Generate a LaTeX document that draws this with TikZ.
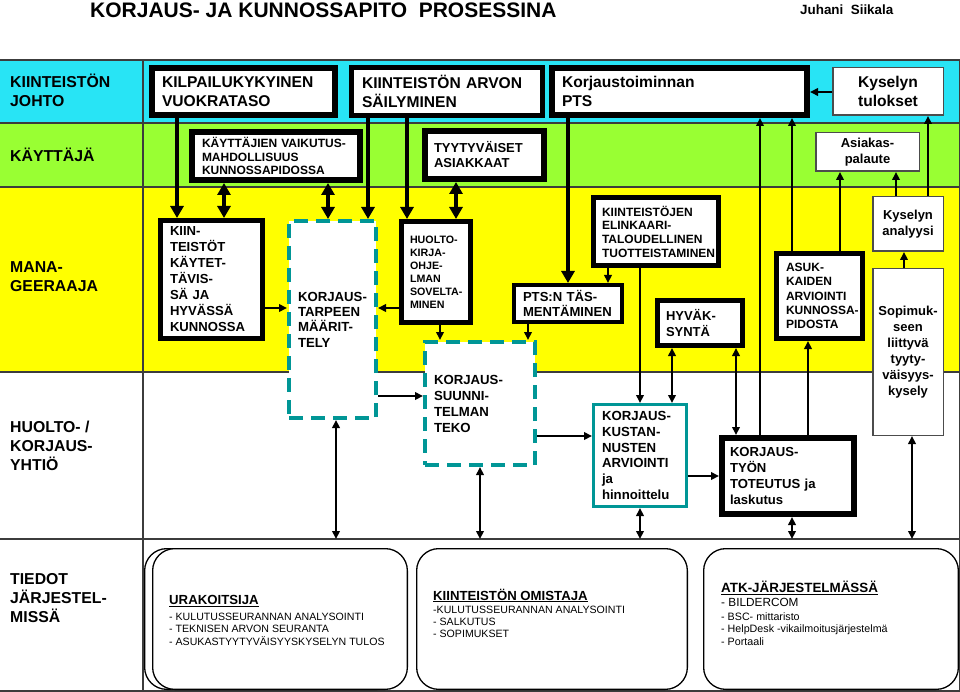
\documentclass[tikz,border=0pt]{standalone}
\usepackage{fontspec}
\setmainfont{Liberation Sans}
\usetikzlibrary{arrows.meta}
\definecolor{cyanband}{RGB}{40,228,245}
\definecolor{greenband}{RGB}{153,255,51}
\definecolor{yellowband}{RGB}{255,255,0}
\definecolor{tealc}{RGB}{0,150,150}
\definecolor{framec}{RGB}{60,60,60}
\newcommand\fs[2]{\fontsize{#1}{#2}\selectfont}
\newcommand\ml[1]{\begin{tabular}[t]{@{}l@{}}#1\end{tabular}}
\newcommand\ulx[1]{\setbox0\hbox{#1}\rlap{\rule[-2.2pt]{\wd0}{1.2pt}}\box0}
\hyphenpenalty=10000
\exhyphenpenalty=10000
% box: name, x1,y1,x2,y2 (outer), line width, text offset from outer left, style, text
\newcommand\bx[9]{%
 \pgfmathsetmacro\bxw{#4-#2-#6}%
 \pgfmathsetmacro\bxh{#5-#3-#6}%
 \pgfmathsetmacro\bxtw{#4-#2-2*#7}%
 \pgfmathsetmacro\bxis{#7-#6/2}%
 \pgfmathsetmacro\bxcx{(#2+#4)/2}%
 \pgfmathsetmacro\bxcy{(#3+#5)/2}%
 \node[#8, line width=#6pt, minimum width=\bxw pt, minimum height=\bxh pt,
   inner xsep=\bxis pt, inner ysep=0pt, text width=\bxtw pt] (#1) at (\bxcx,\bxcy) {#9};}
\newcommand\vc[4]{\path (#4,0) coordinate (vx); \draw[#1] (#2 -| vx) -- (#3 -| vx);}
\newcommand\hc[4]{\path (0,#4) coordinate (hy); \draw[#1] (#2 |- hy) -- (#3 |- hy);}
\tikzset{
 blk/.style={draw=black, fill=white, align=left},
 thinbox/.style={draw=black!70, fill=white, align=center},
 tealdash/.style={draw=tealc, fill=white, dash pattern=on 14pt off 8pt, align=left},
 tealsolid/.style={draw=tealc, fill=white, align=left},
 thk/.style={line width=4.5pt, -{Triangle[length=12pt,width=13pt]}},
 thkboth/.style={line width=4.5pt, {Triangle[length=12pt,width=13pt]}-{Triangle[length=12pt,width=13pt]}},
 thn/.style={line width=2pt, -{Triangle[length=8pt,width=7.5pt]}},
 thnboth/.style={line width=2pt, {Triangle[length=8pt,width=7.5pt]}-{Triangle[length=8pt,width=7.5pt]}},
 rbox/.style={draw=black, rounded corners=22pt, fill=white},
 lbl/.style={font=\fs{15.8}{19}\bfseries, anchor=base west, inner sep=0pt},
 ln/.style={anchor=base west, inner sep=0pt},
 frame/.style={draw=framec, line width=1.3pt},
}
\begin{document}
\begin{tikzpicture}[x=1pt,y=-1pt]
\useasboundingbox (0,0) rectangle (960,692);
% bands
\fill[white] (0,0) rectangle (960,692);
\fill[cyanband] (0,60) rectangle (960,123);
\fill[greenband] (0,123) rectangle (960,187);
\fill[yellowband] (0,187) rectangle (960,372);
\foreach \yy in {60,123,187,372,539,691} \draw[frame] (0,\yy) -- (960,\yy);
\draw[frame] (143,60) -- (143,691);
\draw[frame] (959.3,60) -- (959.3,691);
\coordinate (tied) at (0,539);
% title
\node[ln, font=\fs{21}{25}\bfseries] (title) at (90,18) {KORJAUS- JA KUNNOSSAPITO\ \ PROSESSINA};
\node[ln, font=\fs{13.4}{16}\bfseries] (author) at (800,15) {Juhani\ \ Siikala};
% row labels
\node[lbl] (lab1) at (10,88) {\ml{KIINTEISTÖN\\JOHTO}};
\node[lbl] (lab2) at (10,162) {\ml{KÄYTTÄJÄ}};
\node[lbl] (lab3) at (10,273) {\ml{MANA-\\GEERAAJA}};
\node[lbl] (lab4) at (10,432) {\ml{HUOLTO- /\\KORJAUS-\\YHTIÖ}};
\node[lbl] (lab5) at (10,584) {\ml{TIEDOT\\JÄRJESTEL-\\MISSÄ}};
% top row
\bx{kilp}{149}{65}{338}{118}{6}{13}{blk, font=\fs{15.6}{19}\bfseries}{KILPAILUKYKYINEN\\VUOKRATASO}
\bx{arvo}{349}{65}{545}{118}{5}{13}{blk, font=\fs{15.6}{19}\bfseries}{KIINTEISTÖN~ARVON\\SÄILYMINEN}
\bx{pts}{549}{65}{810}{118}{6}{13}{blk, font=\fs{15.6}{19}\bfseries}{Korjaustoiminnan\\PTS}
\bx{kyst}{832}{67}{944}{116}{1.5}{3}{thinbox, font=\fs{15.6}{19}\bfseries}{Kyselyn\\tulokset}
% green row
\bx{kvm}{189}{129}{363}{183}{6}{13}{blk, font=\fs{12}{13.5}\bfseries}{KÄYTTÄJIEN~VAIKUTUS-\\MAHDOLLISUUS\\KUNNOSSAPIDOSSA}
\bx{tyyt}{422}{128}{547}{182}{6}{12}{blk, font=\fs{13}{15}\bfseries}{TYYTYVÄISET\\ASIAKKAAT}
\bx{asp}{815}{132}{920}{172}{1.5}{3}{thinbox, font=\fs{13}{15.5}\bfseries}{Asiakas-\\palaute}
% yellow row
\bx{kiin}{158}{218}{265}{341}{5}{12}{blk, font=\fs{13.1}{16}\bfseries}{KIIN-\\TEISTÖT\\KÄYTET-\\TÄVIS-\\SÄ~JA\\HYVÄSSÄ\\KUNNOSSA}
\bx{ktar}{287}{219}{378}{420}{4}{11}{tealdash, font=\fs{13.2}{15.4}\bfseries}{KORJAUS-\\TARPEEN\\MÄÄRIT-\\TELY}
\bx{huol}{399}{219}{473}{325}{5}{11}{blk, font=\fs{10.7}{13}\bfseries}{HUOLTO-\\KIRJA-\\OHJE-\\LMAN\\SOVELTA-\\MINEN}
\bx{ksuu}{423}{340}{537}{467}{4}{11}{tealdash, font=\fs{13.2}{16}\bfseries}{KORJAUS-\\SUUNNI-\\TELMAN\\TEKO}
\bx{ptst}{512}{283}{624}{324}{4}{11}{blk, font=\fs{13.1}{15.5}\bfseries}{PTS:N~TÄS-\\MENTÄMINEN}
\bx{elin}{591}{195}{721}{268}{5}{11}{blk, font=\fs{12}{13.7}\bfseries}{KIINTEISTÖJEN\\ELINKAARI-\\TALOUDELLINEN\\TUOTTEISTAMINEN}
\bx{hyv}{655}{298}{745}{348}{5}{11}{blk, font=\fs{13}{15.5}\bfseries}{HYVÄK-\\SYNTÄ}
\bx{asuk}{774}{251}{865}{341}{5}{12}{blk, font=\fs{12}{14.3}\bfseries}{ASUK-\\KAIDEN\\ARVIOINTI\\KUNNOSSA-\\PIDOSTA}
\bx{kana}{872}{196}{944}{252}{1.5}{2}{thinbox, font=\fs{13}{16}\bfseries}{Kyselyn\\analyysi}
\bx{sopi}{872}{268}{944}{436}{1.5}{2}{thinbox, font=\fs{13}{16}\bfseries}{Sopimuk-\\seen\\liittyvä\\tyyty-\\väisyys-\\kysely}
% huolto row
\bx{kkus}{592}{403}{688}{508}{3}{10}{tealsolid, font=\fs{13.2}{15.8}\bfseries}{KORJAUS-\\KUSTAN-\\NUSTEN\\ARVIOINTI\\ja\\hinnoittelu}
\bx{ktyo}{719}{435}{857}{517}{6}{11}{blk, font=\fs{13.1}{15.7}\bfseries}{KORJAUS-\\TYÖN\\TOTEUTUS~ja\\laskutus}
% bottom row
\bx{uraback}{144}{548}{400}{690}{1.3}{5}{rbox}{}
\bx{ura}{152}{548}{408}{690}{1.3}{5}{rbox}{}
\bx{omi}{416}{548}{688}{690}{1.3}{5}{rbox}{}
\bx{atk}{703}{548}{959}{690}{1.3}{5}{rbox}{}
\node[ln, font=\fs{13.2}{15}\bfseries] (urah) at (169,604.5) {\ulx{URAKOITSIJA}};
\node[ln, font=\fs{10.6}{12.5}] (ural) at (169,620) {\ml{- KULUTUSSEURANNAN ANALYSOINTI\\- TEKNISEN ARVON SEURANTA\\- ASUKASTYYTYVÄISYYSKYSELYN TULOS}};
\node[ln, font=\fs{13.2}{15}\bfseries] (omih) at (433,600) {\ulx{KIINTEISTÖN OMISTAJA}};
\node[ln, font=\fs{10.6}{12}] (omil) at (433,613.5) {\ml{-KULUTUSSEURANNAN ANALYSOINTI\\- SALKUTUS\\- SOPIMUKSET}};
\node[ln, font=\fs{13.4}{15}\bfseries] (atkh) at (721,592.5) {\ulx{ATK-JÄRJESTELMÄSSÄ}};
\node[ln, font=\fs{11.8}{14}] (atkb) at (721,606) {- BILDERCOM};
\node[ln, font=\fs{10.7}{12.5}] (atkl) at (721,620) {\ml{- BSC- mittaristo\\- HelpDesk -vikailmoitusjärjestelmä\\- Portaali}};
% thick connectors
\vc{thk}{kilp.south}{kiin.north}{177}
\vc{thkboth}{kvm.south}{kiin.north}{224}
\vc{thkboth}{kvm.south}{ktar.north}{328}
\vc{thk}{arvo.south}{ktar.north}{368}
\vc{thk}{arvo.south}{huol.north}{407}
\vc{thkboth}{tyyt.south}{huol.north}{456}
\vc{thk}{pts.south}{ptst.north}{568}
% thin connectors
\hc{thn}{kiin.east}{ktar.west}{308}
\hc{thn}{huol.west}{ktar.east}{308}
\vc{thn}{huol.south}{ksuu.north}{440}
\vc{thn}{ptst.south}{ksuu.north}{528}
\vc{thn}{elin.south}{ptst.north}{608}
\vc{thn}{elin.south}{kkus.north}{640}
\vc{thnboth}{hyv.south}{kkus.north}{672}
\vc{thnboth}{hyv.south}{ktyo.north}{736}
\vc{thn}{ktyo.north}{pts.south}{760}
\vc{thn}{asuk.north}{pts.south}{792}
\vc{thn}{ktyo.north}{asuk.south}{808}
\vc{thn}{asuk.north}{asp.south}{840}
\vc{thn}{kana.north}{asp.south}{896}
\vc{thn}{kana.north}{kyst.south}{928}
\vc{thn}{sopi.north}{kana.south}{904}
\hc{thn}{kyst.west}{pts.east}{92}
\hc{thn}{ktar.east}{ksuu.west}{396}
\hc{thn}{ksuu.east}{kkus.west}{436}
\hc{thn}{kkus.east}{ktyo.west}{476}
\vc{thnboth}{ktar.south}{tied}{336}
\vc{thnboth}{ksuu.south}{tied}{480}
\vc{thnboth}{kkus.south}{tied}{640}
\vc{thnboth}{ktyo.south}{tied}{792}
\vc{thnboth}{sopi.south}{tied}{912}
\end{tikzpicture}
\end{document}
